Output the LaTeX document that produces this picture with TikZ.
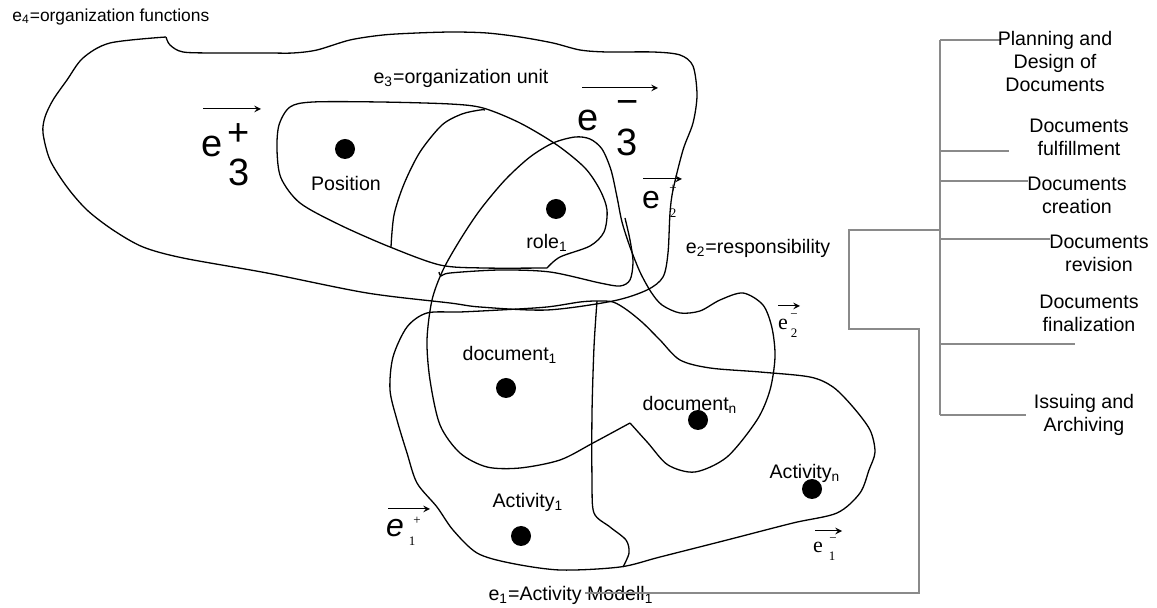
\documentclass[tikz,border=0pt]{standalone}
\usepackage{fontspec}
\setmainfont{Liberation Sans}
\newfontfamily\timesfont{Liberation Serif}
\usepackage{tikz}
\definecolor{grline}{HTML}{8A8A8A}

\begin{document}
\begin{tikzpicture}[x=0.5pt,y=-0.5pt,font=\fontsize{9.8}{11.5}\selectfont,>=stealth,
  blob/.style={line width=0.65pt},
  dot/.style={circle,fill=black,inner sep=0pt,minimum size=10pt},
  lbl/.style={inner sep=0pt},
  treeline/.style={grline,line width=0.55pt},
  vec/.style={->,line width=0.5pt},
  big/.style={inner sep=0pt,font=\fontsize{19}{19}\selectfont},
  mid/.style={inner sep=0pt,font=\fontsize{16}{16}\selectfont},
  tiny/.style={inner sep=0pt,font=\timesfont\fontsize{6.5}{6.5}\selectfont},
  sml/.style={inner sep=0pt,font=\timesfont\fontsize{11}{11}\selectfont}]
  \useasboundingbox (0,0) rectangle (1157,608);

  \draw[blob] plot[smooth] coordinates {(166,37) (110,43) (83,58) (67,80) (53,100) (45,117) (43,133) (50,160) (67,187) (87,210) (113,230) (143,247) (183,258) (267,273) (367,293) (450,303) (480,307) (547,310) (613,301) (647,290) (663,277) (668,253) (670,213) (673,190) (683,150) (693,123) (697,95) (693,66) (680,55) (653,52) (607,52) (580,50) (553,43) (520,37) (487,33) (453,32) (417,33) (383,35) (350,40) (317,50) (293,53) (267,53) (217,53) (183,52) (170,45) (166,37)};
  \draw[blob] plot[smooth] coordinates {(547,268) (560,257) (590,246) (604,232) (607,210) (600,190) (585,168) (557,145) (520,123) (483,108) (450,104) (380,102) (313,102) (290,107) (279,125) (277,150) (281,178) (300,203) (340,225) (390,247) (440,265) (483,268) (547,268)};
  \draw[blob] plot[smooth] coordinates {(391,247) (394,215) (404,184) (420,152) (442,125) (462,114) (480,110) (485,110)};
  \draw[blob] plot[smooth] coordinates {(630,423) (648,443) (668,465) (695,472) (727,457) (757,420) (770,390) (775,357) (772,328) (763,305) (743,293) (720,300) (700,311) (680,313) (662,305) (651,292) (640,272) (630,247) (622,222) (617,197) (611,170) (602,149) (590,139) (575,137) (553,143) (530,157) (505,180) (480,210) (460,240) (443,270) (432,300) (427,340) (430,380) (440,425) (460,453) (487,467) (520,468) (560,460) (593,443) (630,423)};
  \draw[blob] plot[smooth] coordinates {(625,218) (630,240) (633,262) (630,280) (620,286) (600,283) (550,272) (500,270) (450,273) (441,276) (439,272)};
  \draw[blob] plot[smooth cycle] coordinates {(427,313) (460,312) (500,310) (547,307) (580,302) (597,301) (613,302) (627,310) (643,323) (660,340) (680,360) (710,368) (760,372) (810,377) (833,387) (853,407) (870,430) (875,452) (869,470) (860,493) (837,513) (793,523) (727,540) (660,557) (620,567) (560,570) (510,563) (477,553) (453,530) (437,507) (417,483) (407,453) (397,420) (390,390) (393,357) (407,327)};
  \draw[blob] plot[smooth] coordinates {(597,301) (594,347) (592,413) (592,480) (594,513) (610,527) (626,540) (629,553) (623,567)};

  \node[lbl,anchor=west,font=\fontsize{8.7}{10}\selectfont] (orgfun) at (12,17) {e\textsubscript{4}=organization functions};
  \node[lbl] (orgunit) at (461,78) {e\textsubscript{3}=organization unit};
  \node[lbl] (resp) at (758,248) {e\textsubscript{2}=responsibility};
  \node[lbl] (actmodel) at (571,595) {e\textsubscript{1}=Activity Modell\textsubscript{1}};

  \node[dot] (posdot) at (345,149) {};
  \node[lbl] (pos) at (346,184) {Position};
  \node[dot] (roledot) at (556,209) {};
  \node[lbl] (role) at (547,243) {role\textsubscript{1}};
  \node[dot] (docdot) at (506,388) {};
  \node[lbl] (doc) at (510,355) {document\textsubscript{1}};
  \node[dot] (docndot) at (698,420) {};
  \node[lbl] (docn) at (690,405) {document\textsubscript{n}};
  \node[dot] (actdot) at (521,536) {};
  \node[lbl] (act) at (528,502) {Activity\textsubscript{1}};
  \node[dot] (actndot) at (812,489) {};
  \node[lbl] (actn) at (805,473) {Activity\textsubscript{n}};

  \draw[vec] (203,109) -- (261,109);
  \node[big] (ethreep) at (212,146) {e};
  \node[big] (ethreeps) at (239,135) {+};
  \node[big] (ethreepn) at (239,172) {3};
  \draw[vec] (582,88) -- (658,88);
  \node[big] (ethreem) at (588,120) {e};
  \node[big] (ethreems) at (628,108) {−};
  \node[big] (ethreemn) at (627,142) {3};
  \draw[vec] (643,179) -- (682,179);
  \node[mid] (etwop) at (651,200) {e};
  \node[tiny] (etwops) at (673,189) {+};
  \node[tiny] (etwopn) at (673,213) {2};
  \draw[vec] (778,306) -- (800,306);
  \node[sml] (etwom) at (783,324) {e};
  \node[tiny] (etwoms) at (794,316) {−};
  \node[tiny] (etwomn) at (794,333) {2};
  \draw[vec] (388,509) -- (430,509);
  \node[mid,font=\itshape\fontsize{16}{16}\selectfont] (eonep) at (395,528) {e};
  \node[tiny] (eoneps) at (417,521) {+};
  \node[tiny] (eonepn) at (412,541) {1};
  \draw[vec] (815,531) -- (842,531);
  \node[sml] (eonem) at (818,547) {e};
  \node[tiny] (eonems) at (833,540) {−};
  \node[tiny] (eonemn) at (832,556) {1};

  \foreach \y/\xe/\cx/\cy/\txt [count=\i] in {
    40/1000/1055/62/{Planning and\\Design of\\Documents},
    151/1009/1079/137/{Documents\\fulfillment},
    181/1028/1077/195/{Documents\\creation},
    239/1050/1099/253/{Documents\\revision},
    344/1075/1089/313/{Documents\\finalization},
    415/1026/1084/415/{Issuing and\\Archiving}}
  {
    \coordinate (br\i) at (940,\y);
    \coordinate (bre\i) at (\xe,\y);
    \draw[treeline] (br\i) -- (bre\i);
    \node[lbl,align=center] (phase\i) at (\cx,\cy) {\txt};
  }
  \draw[treeline] (br1) -- (br6);
  \coordinate (hub) at (940,230);
  \coordinate (modelend) at (585,593);
  \draw[treeline] (hub) -- (849,230) -- (849,329) -- (919,329) |- (modelend);
\end{tikzpicture}
\end{document}
